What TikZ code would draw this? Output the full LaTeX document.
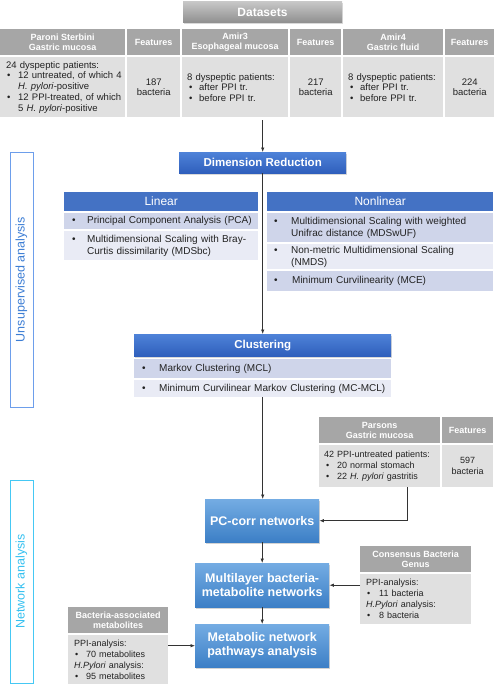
\documentclass[tikz,border=0pt]{standalone}
\usepackage{fontspec}
\setmainfont{Liberation Sans}
\usetikzlibrary{arrows.meta,shadows}

\definecolor{hdrgray}{HTML}{A6A6A6}
\definecolor{datgray}{HTML}{E0E0E0}
\definecolor{dsgraytop}{HTML}{C6C6C6}
\definecolor{dsgraybot}{HTML}{8E8E8E}
\definecolor{headblue}{HTML}{4472C4}
\definecolor{drtop}{HTML}{4E82D8}
\definecolor{drbot}{HTML}{2F5FBC}
\definecolor{nettop}{HTML}{74ACE3}
\definecolor{netbot}{HTML}{3C7FC6}
\definecolor{rowdark}{HTML}{CFD5EA}
\definecolor{rowlight}{HTML}{E9EBF5}
\definecolor{usblue}{HTML}{6D9EEB}
\definecolor{ustext}{HTML}{3C7DD4}
\definecolor{nablue}{HTML}{45C8F4}
\definecolor{natext}{HTML}{35C0F0}
\definecolor{arrowgray}{HTML}{333333}
\definecolor{txt}{HTML}{222222}

\newcommand{\itm}[2]{\hspace*{#1}\makebox[#2][l]{\textbullet}}

\tikzset{
	hdr/.style={anchor=north west, fill=hdrgray, text=white, inner sep=0pt, align=center, minimum height=26pt, font=\bfseries\fontsize{9}{10.5}\selectfont},
	dat/.style={anchor=north west, fill=datgray, text=txt, inner sep=0pt, align=left, font=\fontsize{9.5}{10.5}\selectfont},
	datsmall/.style={dat, font=\fontsize{9}{11}\selectfont},
	num/.style={dat, align=center},
	dsbox/.style={top color=dsgraytop, bottom color=dsgraybot, text=white, inner sep=0pt, font=\bfseries\fontsize{12}{14}\selectfont, drop shadow={shadow xshift=1pt, shadow yshift=-1.5pt, opacity=0.3}},
	stepbox/.style={anchor=north west, top color=drtop, bottom color=drbot, text=white, inner sep=0pt, font=\bfseries\fontsize{11.5}{13}\selectfont, drop shadow={shadow xshift=1pt, shadow yshift=-1.5pt, opacity=0.3}},
	netbox/.style={anchor=north west, top color=nettop, bottom color=netbot, text=white, inner sep=0pt, align=center, font=\bfseries\fontsize{12.5}{14}\selectfont, drop shadow={shadow xshift=1pt, shadow yshift=-1.5pt, opacity=0.35}},
	mhead/.style={anchor=north west, fill=headblue, text=white, inner sep=0pt, minimum height=19pt, font=\fontsize{12}{14}\selectfont},
	itemd/.style={anchor=north west, fill=rowdark, text=txt, inner sep=0pt, align=left, font=\fontsize{10}{12}\selectfont},
	iteml/.style={itemd, fill=rowlight},
	side/.style={rotate=90, draw=#1, line width=0.8pt, inner sep=0pt, minimum height=23pt, font=\fontsize{12.5}{14}\selectfont},
	flow/.style={draw=arrowgray, line width=0.7pt, -{Latex[length=4.5pt, width=3.5pt]}}
}

\begin{document}
\begin{tikzpicture}[x=1pt, y=-1pt]
	\useasboundingbox (0, 0) rectangle (494, 685);

	\node[dsbox, minimum width=159pt, minimum height=21pt] (ds) at (262.5, 12.5) {Datasets};

	\node[hdr, minimum width=125pt] (h1) at (0, 29) {Paroni Sterbini\\Gastric mucosa};
	\node[hdr, minimum width=53pt] (h2) at (127, 29) {Features};
	\node[hdr, minimum width=106pt] (h3) at (182, 29) {Amir3\\Esophageal mucosa};
	\node[hdr, minimum width=51pt] (h4) at (290, 29) {Features};
	\node[hdr, minimum width=100pt] (h5) at (343, 29) {Amir4\\Gastric fluid};
	\node[hdr, minimum width=49pt] (h6) at (445, 29) {Features};

	\node[dat, text width=125pt, minimum height=60pt, font=\fontsize{9.5}{10.8}\selectfont] (d1) at (0, 57) {\hspace*{6pt}24 dyspeptic patients:\\ \itm{7pt}{11pt}12 untreated, of which 4\\ \hspace*{18pt}\textit{H. pylori}-positive\\ \itm{7pt}{11pt}12 PPI-treated, of which\\ \hspace*{18pt}5 \textit{H. pylori}-positive};
	\node[num, minimum width=53pt, minimum height=60pt] (d2) at (127, 57) {187\\bacteria};
	\node[dat, text width=106pt, minimum height=60pt] (d3) at (182, 57) {\hspace*{5pt}8 dyspeptic patients:\\ \itm{7pt}{10pt}after PPI tr.\\ \itm{7pt}{10pt}before PPI tr.};
	\node[num, minimum width=51pt, minimum height=60pt] (d4) at (290, 57) {217\\bacteria};
	\node[dat, text width=100pt, minimum height=60pt] (d5) at (343, 57) {\hspace*{5pt}8 dyspeptic patients:\\ \itm{7pt}{10pt}after PPI tr.\\ \itm{7pt}{10pt}before PPI tr.};
	\node[num, minimum width=49pt, minimum height=60pt] (d6) at (445, 57) {224\\bacteria};

	\node[stepbox, minimum width=167pt, minimum height=21pt] (dr) at (179, 152) {Dimension Reduction};

	\node[mhead, minimum width=194pt] (lin) at (64, 192) {Linear};
	\node[itemd, text width=194pt, minimum height=16pt] (lr1) at (64, 213) {\itm{8pt}{15pt}Principal Component Analysis (PCA)};
	\node[iteml, text width=194pt, minimum height=29pt] (lr2) at (64, 231) {\itm{8pt}{15pt}Multidimensional Scaling with Bray-\\ \hspace*{23pt}Curtis dissimilarity (MDSbc)};

	\node[mhead, minimum width=226pt] (nlin) at (267, 192) {Nonlinear};
	\node[itemd, text width=226pt, minimum height=29pt] (nr1) at (267, 213) {\itm{7pt}{17pt}Multidimensional Scaling with weighted\\ \hspace*{24pt}Unifrac distance (MDSwUF)};
	\node[iteml, text width=226pt, minimum height=25pt] (nr2) at (267, 244) {\itm{7pt}{17pt}Non-metric Multidimensional Scaling\\ \hspace*{24pt}(NMDS)};
	\node[itemd, text width=226pt, minimum height=20pt] (nr3) at (267, 271) {\itm{7pt}{18pt}Minimum Curvilinearity (MCE)};

	\node[stepbox, minimum width=257pt, minimum height=22pt] (cl) at (134, 334) {Clustering};
	\node[itemd, text width=257pt, minimum height=19pt] (cr1) at (134, 359) {\itm{8pt}{17pt}Markov Clustering (MCL)};
	\node[iteml, text width=257pt, minimum height=17pt] (cr2) at (134, 380) {\itm{8pt}{17pt}Minimum Curvilinear Markov Clustering (MC-MCL)};

	\node[hdr, minimum width=121pt] (ph1) at (319, 417) {Parsons\\Gastric mucosa};
	\node[hdr, minimum width=51pt] (ph2) at (442, 417) {Features};
	\node[datsmall, text width=121pt, minimum height=42pt] (pd1) at (319, 445) {\hspace*{5pt}42 PPI-untreated patients:\\ \itm{7pt}{11pt}20 normal stomach\\ \itm{7pt}{11pt}22 \textit{H. pylori} gastritis};
	\node[num, font=\fontsize{9}{11}\selectfont, minimum width=51pt, minimum height=42pt] (pd2) at (442, 445) {597\\bacteria};

	\node[netbox, minimum width=114pt, minimum height=43pt] (pc) at (205, 499) {PC-corr networks};
	\node[netbox, minimum width=134pt, minimum height=44pt] (ml) at (195, 563) {Multilayer bacteria-\\metabolite networks};
	\node[netbox, minimum width=134pt, minimum height=43pt] (mn) at (195, 624) {Metabolic network\\pathways analysis};

	\node[hdr, minimum width=111pt] (ch) at (360, 546) {Consensus Bacteria\\Genus};
	\node[datsmall, text width=111pt, minimum height=50pt] (cd) at (360, 574) {\hspace*{6pt}PPI-analysis:\\ \itm{7pt}{12pt}11 bacteria\\ \hspace*{6pt}\textit{H.Pylori} analysis:\\ \itm{7pt}{12pt}8 bacteria};

	\node[hdr, minimum width=100pt] (bh) at (68, 607) {Bacteria-associated\\metabolites};
	\node[datsmall, text width=100pt, minimum height=49pt] (bd) at (68, 635) {\hspace*{6pt}PPI-analysis:\\ \itm{7pt}{11pt}70 metabolites\\ \hspace*{6pt}\textit{H.Pylori} analysis:\\ \itm{7pt}{11pt}95 metabolites};

	\node[side=usblue, text=ustext, minimum width=255pt] (us) at (21.5, 279.5) {Unsupervised analysis};
	\node[side=nablue, text=natext, minimum width=203pt] (na) at (21.5, 581.5) {Network analysis};

	\draw[flow] ([yshift=-3pt]d3.south -| dr.north) -- (dr.north);
	\draw[flow] (dr.south) -- (cl.north);
	\draw[flow] (cr2.south) -- (cr2.south |- pc.north);
	\draw[flow] ([xshift=27.5pt]pd1.south) |- (pc.east);
	\draw[flow] (pc.south) -- (pc.south |- ml.north);
	\draw[flow] (cd.west |- ml.east) -- (ml.east);
	\draw[flow] (ml.south) -- (ml.south |- mn.north);
	\draw[flow] (bd.east |- mn.west) -- (mn.west);

\end{tikzpicture}
\end{document}
